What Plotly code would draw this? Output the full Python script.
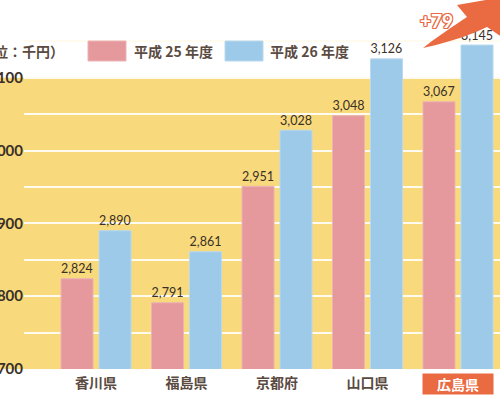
import plotly.graph_objects as go

# ---- data ----
prefectures = ["香川県", "福島県", "京都府", "山口県", "広島県"]
h25_values = [2824, 2791, 2951, 3048, 3067]
h26_values = [2890, 2861, 3028, 3126, 3145]
series_names = ["平成 25 年度", "平成 26 年度"]
unit_label = "（単位：千円）"
highlight_label = "広島県"
diff_label = "+79"
y_ticks = [2700, 2800, 2900, 3000, 3100]

# ---- style ----
PINK = "#E5999D"
PINK_EDGE = "#EDB3B5"
BLUE = "#9ECAEA"
BLUE_EDGE = "#B8D9F0"
YELLOW = "#F8D97B"
ORANGE = "#EA6A42"
TEXT = "#5A4A3F"
NUM = "#3A3028"

W, H = 500, 397
L, R, T, B = 24, 0, 30, 28
PW, PH = W - L - R, H - T - B
SCALE = 0.728  # px per unit


def px(x):
    return (x - L) / PW


def py(y):
    return (H - B - y) / PH


fig = go.Figure()
fig.add_trace(go.Bar(
    x=prefectures, y=h25_values, name=series_names[0],
    marker=dict(color=PINK, line=dict(color=PINK_EDGE, width=1)),
    texttemplate="%{y:,}", textposition="outside", cliponaxis=False,
    textfont=dict(family="Lato, Noto Sans", size=15, color=NUM),
))
fig.add_trace(go.Bar(
    x=prefectures, y=h26_values, name=series_names[1],
    marker=dict(color=BLUE, line=dict(color=BLUE_EDGE, width=1)),
    texttemplate="%{y:,}", textposition="outside", cliponaxis=False,
    textfont=dict(family="Lato, Noto Sans", size=15, color=NUM),
))

shapes = []
# yellow band 2700-3100
shapes.append(dict(type="rect", xref="paper", yref="y", x0=-0.2, x1=1.2,
                   y0=y_ticks[0], y1=y_ticks[-1], fillcolor=YELLOW,
                   line=dict(width=0), layer="below"))
# legend swatches
shapes.append(dict(type="rect", xref="paper", yref="paper",
                   x0=px(88), x1=px(126), y0=py(61), y1=py(41),
                   fillcolor=PINK, line=dict(color=PINK_EDGE, width=1)))
shapes.append(dict(type="rect", xref="paper", yref="paper",
                   x0=px(225), x1=px(263), y0=py(61), y1=py(41),
                   fillcolor=BLUE, line=dict(color=BLUE_EDGE, width=1)))
# arrow (polygon outline in pixel space, converted to paper)
arrow_px = [(423, 48), (432, 41), (442, 34), (452, 27), (461, 21), (467, 17),
            (457, 5), (503, -3), (502, 37), (487, 27), (476, 32), (463, 37),
            (450, 41), (436, 45)]
path = "M " + " L ".join(f"{px(a):.5f},{py(b):.5f}" for a, b in arrow_px) + " Z"
shapes.append(dict(type="path", xref="paper", yref="paper", path=path,
                   fillcolor=ORANGE, line=dict(width=0), layer="above"))

annotations = [
    dict(xref="paper", yref="paper", x=px(66), y=py(51), xanchor="right",
         yanchor="middle", text=unit_label, showarrow=False,
         font=dict(family="Noto Sans CJK JP", size=14, color=TEXT, weight="bold")),
    dict(xref="paper", yref="paper", x=px(132), y=py(51), xanchor="left",
         yanchor="middle", text=series_names[0], showarrow=False,
         font=dict(family="Noto Sans CJK JP", size=14, color=TEXT, weight="bold")),
    dict(xref="paper", yref="paper", x=px(268), y=py(51), xanchor="left",
         yanchor="middle", text=series_names[1], showarrow=False,
         font=dict(family="Noto Sans CJK JP", size=14, color=TEXT, weight="bold")),
    dict(xref="x", yref="paper", x=highlight_label, y=py(384), xanchor="center",
         yanchor="middle", text=highlight_label, showarrow=False,
         bgcolor=ORANGE, width=66, height=16, borderpad=2,
         font=dict(family="Noto Sans CJK JP", size=14, color="#FFFFFF", weight="bold")),
    dict(xref="paper", yref="paper", x=px(436), y=py(20), xanchor="center",
         yanchor="middle", text=diff_label, showarrow=False,
         font=dict(family="Lato", size=19, color="#FFFFFF", weight="bold",
                   shadow=f"1px 0 0 {ORANGE}, -1px 0 0 {ORANGE}, 0 1px 0 {ORANGE}, 0 -1px 0 {ORANGE}, 1px 1px 0 {ORANGE}, -1px -1px 0 {ORANGE}, 1px -1px 0 {ORANGE}, -1px 1px 0 {ORANGE}")),
]

fig.update_layout(
    width=W, height=H,
    margin=dict(l=L, r=R, t=T, b=B, pad=0),
    template="none",
    paper_bgcolor="white", plot_bgcolor="rgba(0,0,0,0)",
    barmode="group", bargap=0.16, bargroupgap=0.158,
    showlegend=False,
    shapes=shapes, annotations=annotations,
    font=dict(family="Noto Sans CJK JP", color=TEXT),
)
fig.update_xaxes(
    type="category", range=[-0.796, 4.464], showgrid=False, showline=False,
    zeroline=False, ticks="", automargin=False,
    tickvals=prefectures[:-1], ticktext=prefectures[:-1], ticklabelstandoff=4,
    tickfont=dict(family="Noto Sans CJK JP", size=14, color=TEXT, weight="bold"),
)
fig.update_yaxes(
    range=[2700, 2700 + PH / SCALE], tickvals=y_ticks, tickformat=",",
    showgrid=True, gridcolor="#FFFBEF", gridwidth=1.5,
    minor=dict(dtick=50, tick0=2700, showgrid=True, gridcolor="#FFFBEF", gridwidth=1.5),
    zeroline=False, showline=False, ticks="", automargin=False,
    tickfont=dict(family="Lato", size=15, color=NUM, weight="bold"),
)

fig.write_html("out.html", config={"displayModeBar": False},
               post_script="document.body.style.margin='0px';document.body.style.overflow='hidden';")
